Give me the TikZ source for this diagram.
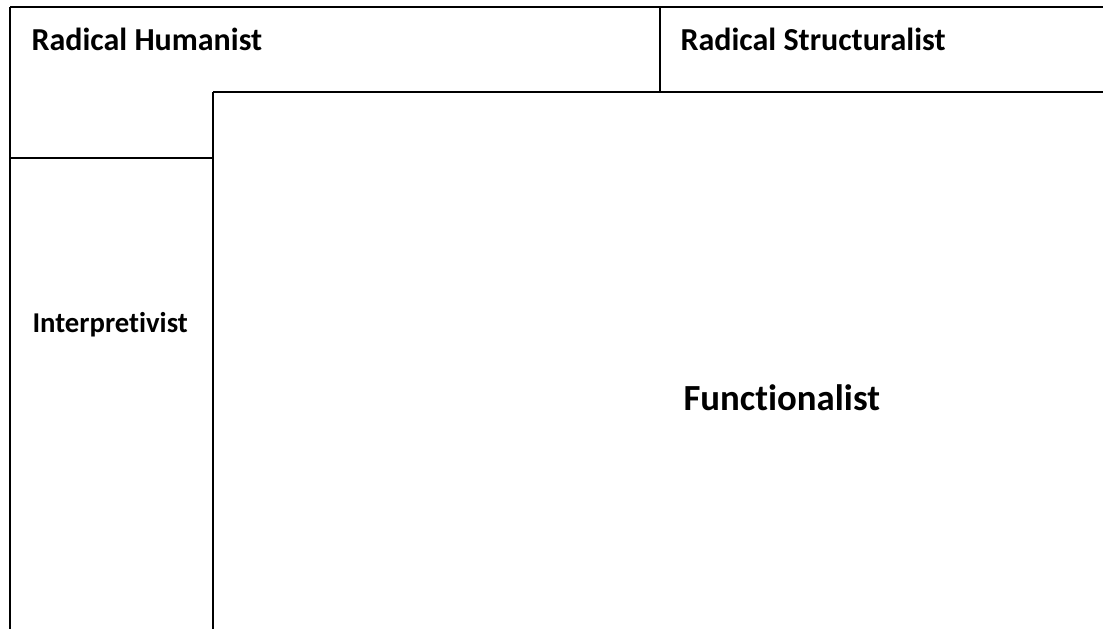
\documentclass[tikz,border=0pt]{standalone}
\usepackage{fontspec}
\setmainfont{Carlito}[Ligatures=NoCommon]
\usepackage{tikz}

\tikzset{quadlabel/.style={anchor=base west,inner sep=0pt,font=\bfseries\fontsize{32}{37}\selectfont}}

\begin{document}
\begin{tikzpicture}[x=1pt,y=-1pt,line width=1.1pt]
\useasboundingbox (0,0) rectangle (1103,629);

%%% frame lines
\draw[-] (10,7) to (1103,7);
\draw[-] (10,7) to (10,629);
\draw[-] (660,7) to (660,92);
\draw[-] (213,92) to (1103,92);
\draw[-] (213,92) to (213,629);
\draw[-] (10,158) to (213,158);

%%% labels
\node[quadlabel] (humanist) at (31,50) {Radical Humanist};
\node[quadlabel] (structuralist) at (680,50) {Radical Structuralist};
\node[quadlabel,font=\bfseries\fontsize{28.7}{33}\selectfont] (interpretivist) at (32,332) {Interpretivist};
\node[quadlabel,font=\bfseries\fontsize{36.8}{42}\selectfont] (functionalist) at (683,410) {Functionalist};
\end{tikzpicture}
\end{document}
